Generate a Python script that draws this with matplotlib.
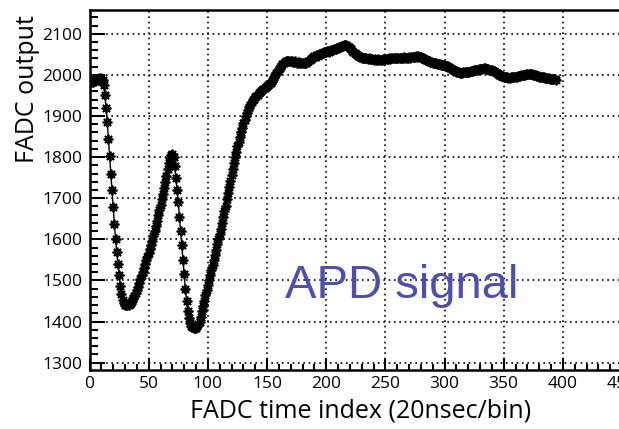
#!/usr/bin/env python3

import matplotlib
matplotlib.use('Agg')
import matplotlib.pyplot as plt
import numpy as np
from matplotlib.ticker import MultipleLocator

# ======================================================================
# Data (one value per 20 nsec bin).
# ======================================================================

adc = [
    1980, 1982, 1985, 1983, 1988, 1986, 1990, 1988, 1992, 1990,   # 0
    1992, 1988, 1975, 1950, 1920, 1885, 1845, 1802, 1760, 1720,   # 10
    1678, 1638, 1600, 1568, 1540, 1513, 1487, 1466, 1452, 1444,   # 20
    1441, 1440, 1439, 1440, 1442, 1446, 1451, 1457, 1463, 1470,   # 30
    1477, 1485, 1494, 1503, 1512, 1521, 1530, 1539, 1549, 1558,   # 40
    1567, 1577, 1587, 1597, 1608, 1620, 1632, 1645, 1658, 1671,   # 50
    1684, 1697, 1711, 1725, 1740, 1755, 1770, 1785, 1798, 1805,   # 60
    1808, 1800, 1778, 1750, 1720, 1690, 1655, 1620, 1585, 1550,   # 70
    1515, 1480, 1450, 1425, 1408, 1397, 1390, 1386, 1384, 1383,   # 80
    1385, 1389, 1395, 1400, 1412, 1425, 1438, 1451, 1464, 1476,   # 90
    1488, 1500, 1513, 1525, 1538, 1550, 1563, 1575, 1588, 1600,   # 100
    1613, 1626, 1640, 1654, 1668, 1682, 1697, 1712, 1727, 1742,   # 110
    1757, 1772, 1786, 1800, 1813, 1826, 1838, 1850, 1861, 1872,   # 120
    1882, 1891, 1900, 1908, 1915, 1922, 1928, 1933, 1938, 1942,   # 130
    1946, 1949, 1952, 1955, 1958, 1960, 1963, 1965, 1968, 1970,   # 140
    1972, 1975, 1978, 1981, 1985, 1990, 1995, 2000, 2005, 2010,   # 150
    2014, 2018, 2022, 2026, 2029, 2031, 2033, 2034, 2035, 2034,   # 160
    2033, 2035, 2032, 2031, 2033, 2030, 2029, 2031, 2028, 2030,   # 170
    2029, 2028, 2030, 2029, 2031, 2033, 2036, 2039, 2042, 2044,   # 180
    2045, 2047, 2048, 2047, 2050, 2051, 2052, 2054, 2055, 2056,   # 190
    2057, 2058, 2057, 2059, 2060, 2061, 2060, 2062, 2064, 2065,   # 200
    2066, 2067, 2068, 2070, 2071, 2072, 2073, 2072, 2071, 2069,   # 210
    2066, 2063, 2059, 2056, 2053, 2050, 2048, 2046, 2045, 2043,   # 220
    2042, 2041, 2041, 2040, 2041, 2039, 2040, 2039, 2038, 2039,   # 230
    2037, 2038, 2037, 2036, 2038, 2037, 2036, 2037, 2038, 2037,   # 240
    2038, 2039, 2038, 2040, 2039, 2040, 2041, 2040, 2041, 2042,   # 250
    2041, 2040, 2041, 2042, 2041, 2042, 2043, 2042, 2041, 2042,   # 260
    2043, 2042, 2043, 2044, 2043, 2044, 2045, 2044, 2045, 2044,   # 270
    2043, 2042, 2040, 2039, 2037, 2036, 2034, 2033, 2032, 2031,   # 280
    2030, 2029, 2029, 2028, 2027, 2026, 2026, 2025, 2024, 2024,   # 290
    2023, 2022, 2021, 2020, 2019, 2017, 2015, 2013, 2011, 2009,   # 300
    2008, 2007, 2006, 2005, 2005, 2005, 2006, 2006, 2007, 2007,   # 310
    2008, 2008, 2009, 2010, 2010, 2011, 2012, 2012, 2013, 2014,   # 320
    2014, 2015, 2015, 2016, 2016, 2015, 2015, 2014, 2013, 2012,   # 330
    2011, 2010, 2009, 2007, 2005, 2003, 2001, 2000, 1998, 1997,   # 340
    1996, 1995, 1994, 1994, 1993, 1993, 1994, 1994, 1995, 1995,   # 350
    1996, 1996, 1997, 1998, 1998, 1999, 2000, 2000, 2001, 2002,   # 360
    2002, 2002, 2003, 2002, 2002, 2001, 2000, 1999, 1998, 1997,   # 370
    1996, 1995, 1995, 1994, 1994, 1993, 1993, 1992, 1992, 1991,   # 380
    1990, 1990, 1989, 1989, 1988,                                 # 390
]

xlabel = 'FADC time index (20nsec/bin)'
ylabel = 'FADC output'
yticks = [1300, 1400, 1500, 1600, 1700, 1800, 1900, 2000, 2100]
xticks = [0, 50, 100, 150, 200, 250, 300, 350, 400, 450]

# ======================================================================
# Plot.
# ======================================================================

fig = plt.figure(figsize=(6.19, 4.29), dpi=100)
# frame runs off the right edge of the picture, like the original
ax = fig.add_axes([89.5/619, 59/429, 568/619, 360/429])

t = np.arange(len(adc))
ax.plot(
    t, adc,
    color='k',
    lw=1.0,
    marker=(8, 2, 0),
    markersize=7,
    markeredgewidth=1.3,
    )

ax.set_xlim(0, 480)
ax.set_ylim(1282, 2158)
ax.set_xticks(xticks)
ax.set_yticks(yticks)
ax.xaxis.set_minor_locator(MultipleLocator(10))
ax.yaxis.set_minor_locator(MultipleLocator(20))
ax.tick_params(which='both', direction='in', width=1.5, colors='k',
               labelsize=12.5)
ax.tick_params(axis='y', which='major', length=11, pad=5)
ax.tick_params(axis='y', which='minor', length=6)
ax.tick_params(axis='x', which='major', length=8, pad=4)
ax.tick_params(axis='x', which='minor', length=4)
for lab in ax.get_xticklabels() + ax.get_yticklabels():
    lab.set_family('Open Sans')
for s in ax.spines.values():
    s.set_linewidth(1.8)

ax.grid(True, which='major', color='k', linestyle=(0, (1, 2.2)), lw=1.2)

ax.set_xlabel(xlabel, fontsize=18, family='Open Sans')
ax.set_ylabel(ylabel, fontsize=18, family='Open Sans')
ax.xaxis.set_label_coords(0.478, -0.078)
ax.yaxis.set_label_coords(-0.088, 0.78)

ax.text(165, 1458, 'APD signal', color='#4a4fb0', fontsize=34,
        family='Liberation Sans', ha='left', va='baseline')

fig.savefig('out.png', dpi=100)
plt.close()
